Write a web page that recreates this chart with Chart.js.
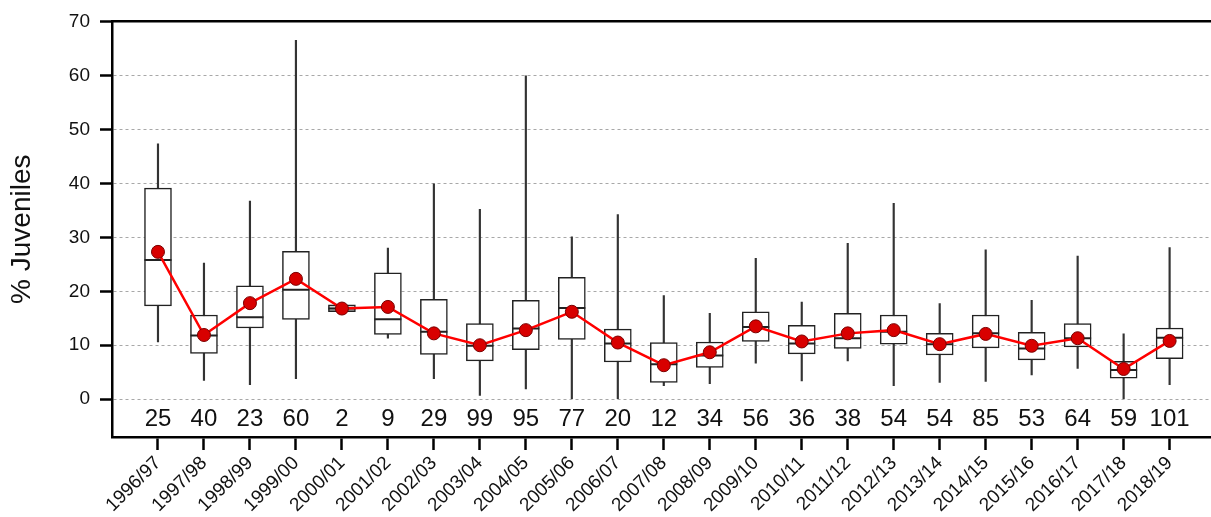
<!DOCTYPE html>
<html>
<head>
<meta charset="utf-8">
<script src="https://cdn.jsdelivr.net/npm/chart.js@4/dist/chart.umd.min.js"></script>
<style>
  html, body { margin: 0; background: #fff; overflow: hidden; }
  #wrap { width: 1211px; height: 517px; }
</style>
</head>
<body>
<div id="wrap"><canvas id="myChart"></canvas></div>
<script>
// values
const seasons = ['1996/97','1997/98','1998/99','1999/00','2000/01','2001/02','2002/03','2003/04',
    '2004/05','2005/06','2006/07','2007/08','2008/09','2009/10','2010/11','2011/12','2012/13',
    '2013/14','2014/15','2015/16','2016/17','2017/18','2018/19'];
const counts = [25,40,23,60,2,9,29,99,95,77,20,12,34,56,36,38,54,54,85,53,64,59,101];
const whiskerLow = [10.6,3.5,2.7,3.8,16.2,11.3,3.8,0.7,1.9,0.0,0.0,2.5,2.9,6.7,3.4,7.1,2.5,3.1,3.3,4.5,5.7,0.0,2.7];
const q1 = [17.3,8.5,13.2,14.8,16.2,12.0,8.3,7.1,9.2,11.1,6.9,3.1,5.9,10.7,8.4,9.4,10.2,8.2,9.5,7.3,9.7,3.9,7.5];
const medians = [25.8,11.8,15.2,20.3,16.8,14.8,12.5,9.9,13.1,16.9,10.3,6.5,8.1,13.4,10.3,11.3,12.5,10.2,12.2,9.4,11.3,5.4,11.4];
const q3 = [39.1,15.6,21.0,27.4,17.5,23.4,18.5,14.0,18.3,22.6,13.0,10.5,10.6,16.2,13.7,15.9,15.6,12.2,15.6,12.4,14.0,7.0,13.2];
const whiskerHigh = [47.3,25.2,36.7,66.5,17.5,28.0,39.9,35.2,59.9,30.1,34.2,19.2,15.9,26.1,18.0,28.9,36.3,17.7,27.7,18.3,26.5,12.1,28.1];
const means = [27.3,11.9,17.8,22.3,16.8,17.1,12.2,10.0,12.8,16.2,10.5,6.3,8.7,13.5,10.7,12.2,12.8,10.2,12.1,9.9,11.3,5.6,10.8];
const yTicks = [0,10,20,30,40,50,60,70];

const FONT = '"Liberation Sans", Arial, sans-serif';

// sample sizes written inside the plot, just under zero
const countLabels = {
    id: 'countLabels',
    afterDatasetsDraw(chart) {
        const {ctx, scales} = chart;
        ctx.save();
        ctx.font = '24px ' + FONT;
        ctx.fillStyle = '#111';
        ctx.textAlign = 'center';
        ctx.textBaseline = 'middle';
        counts.forEach((n, i) => {
            ctx.fillText(String(n), scales.x.getPixelForValue(i), scales.y.getPixelForValue(-3.65));
        });
        ctx.restore();
    }
};

const renderChart = () => {
    const ctx = document.getElementById('myChart').getContext('2d');
    new Chart(ctx, {
        type: 'bar',
        data: {
            datasets: [
                {
                    // mean line
                    type: 'line',
                    order: 0,
                    data: means.map((v, i) => ({x: i, y: v})),
                    borderColor: '#ff0000',
                    borderWidth: 2.5,
                    tension: 0,
                    pointRadius: 6.5,
                    pointBackgroundColor: '#d80000',
                    pointBorderColor: '#7a0000',
                    pointBorderWidth: 1
                },
                {
                    // medians
                    type: 'line',
                    order: 1,
                    showLine: false,
                    data: medians.map((v, i) => ({x: i, y: v})),
                    pointStyle: 'line',
                    pointRadius: 13.5,
                    pointBorderColor: '#222',
                    pointBorderWidth: 2
                },
                {
                    // boxes
                    order: 2,
                    grouped: false,
                    data: q1.map((v, i) => ({x: i, y: [v, q3[i]]})),
                    barThickness: 27,
                    backgroundColor: seasons.map((s, i) => i === 4 ? '#cfcfcf' : '#ffffff'),
                    borderColor: '#222',
                    borderWidth: 1.5,
                    borderSkipped: false
                },
                {
                    // whiskers
                    order: 3,
                    grouped: false,
                    data: whiskerLow.map((v, i) => ({x: i, y: [v, whiskerHigh[i]]})),
                    barThickness: 1.5,
                    backgroundColor: '#333',
                    borderWidth: 0
                }
            ]
        },
        options: {
            responsive: true,
            maintainAspectRatio: false,
            animation: false,
            events: [],
            layout: { autoPadding: false, padding: { top: 19, right: 0, left: 0, bottom: 0 } },
            plugins: {
                legend: { display: false },
                tooltip: { enabled: false }
            },
            scales: {
                x: {
                    type: 'linear',
                    position: 'bottom',
                    offset: false,
                    min: -1,
                    max: 22.9,
                    afterBuildTicks: (scale) => { scale.ticks = seasons.map((s, i) => ({value: i})); },
                    afterFit: (scale) => {
                        scale.height = 80;
                        scale.paddingRight = 0;
                        scale.paddingLeft = 0;
                    },
                    ticks: {
                        autoSkip: false,
                        minRotation: 45,
                        maxRotation: 45,
                        padding: 2,
                        color: '#111',
                        font: { family: FONT, size: 19 },
                        callback: (v) => seasons[v]
                    },
                    grid: {
                        offset: false,
                        drawOnChartArea: false,
                        tickLength: 13,
                        tickWidth: 2.5,
                        tickColor: '#000'
                    },
                    border: { color: '#000', width: 2.5 }
                },
                top: {
                    type: 'linear',
                    position: 'top',
                    min: 0,
                    max: 1,
                    afterFit: (scale) => { scale.height = 0; },
                    ticks: { display: false },
                    grid: { display: false },
                    border: { color: '#000', width: 2.5 }
                },
                y: {
                    min: -7,
                    max: 70,
                    afterBuildTicks: (scale) => { scale.ticks = yTicks.map(v => ({value: v})); },
                    afterFit: (scale) => { scale.width = 112; },
                    ticks: {
                        padding: 10,
                        color: '#111',
                        font: { family: FONT, size: 19 }
                    },
                    grid: {
                        color: (c) => c.tick && c.tick.value === 70 ? 'rgba(0,0,0,0)' : '#a8a8a8',
                        lineWidth: 1,
                        tickLength: 12,
                        tickWidth: 2.5,
                        tickColor: '#000'
                    },
                    border: { color: '#000', width: 2.5, dash: [3, 3] },
                    title: {
                        display: true,
                        text: '% Juveniles',
                        color: '#111',
                        padding: { top: 5, bottom: 0 },
                        font: { family: FONT, size: 28 }
                    }
                }
            }
        },
        plugins: [countLabels]
    });
};

renderChart();
</script>
</body>
</html>
